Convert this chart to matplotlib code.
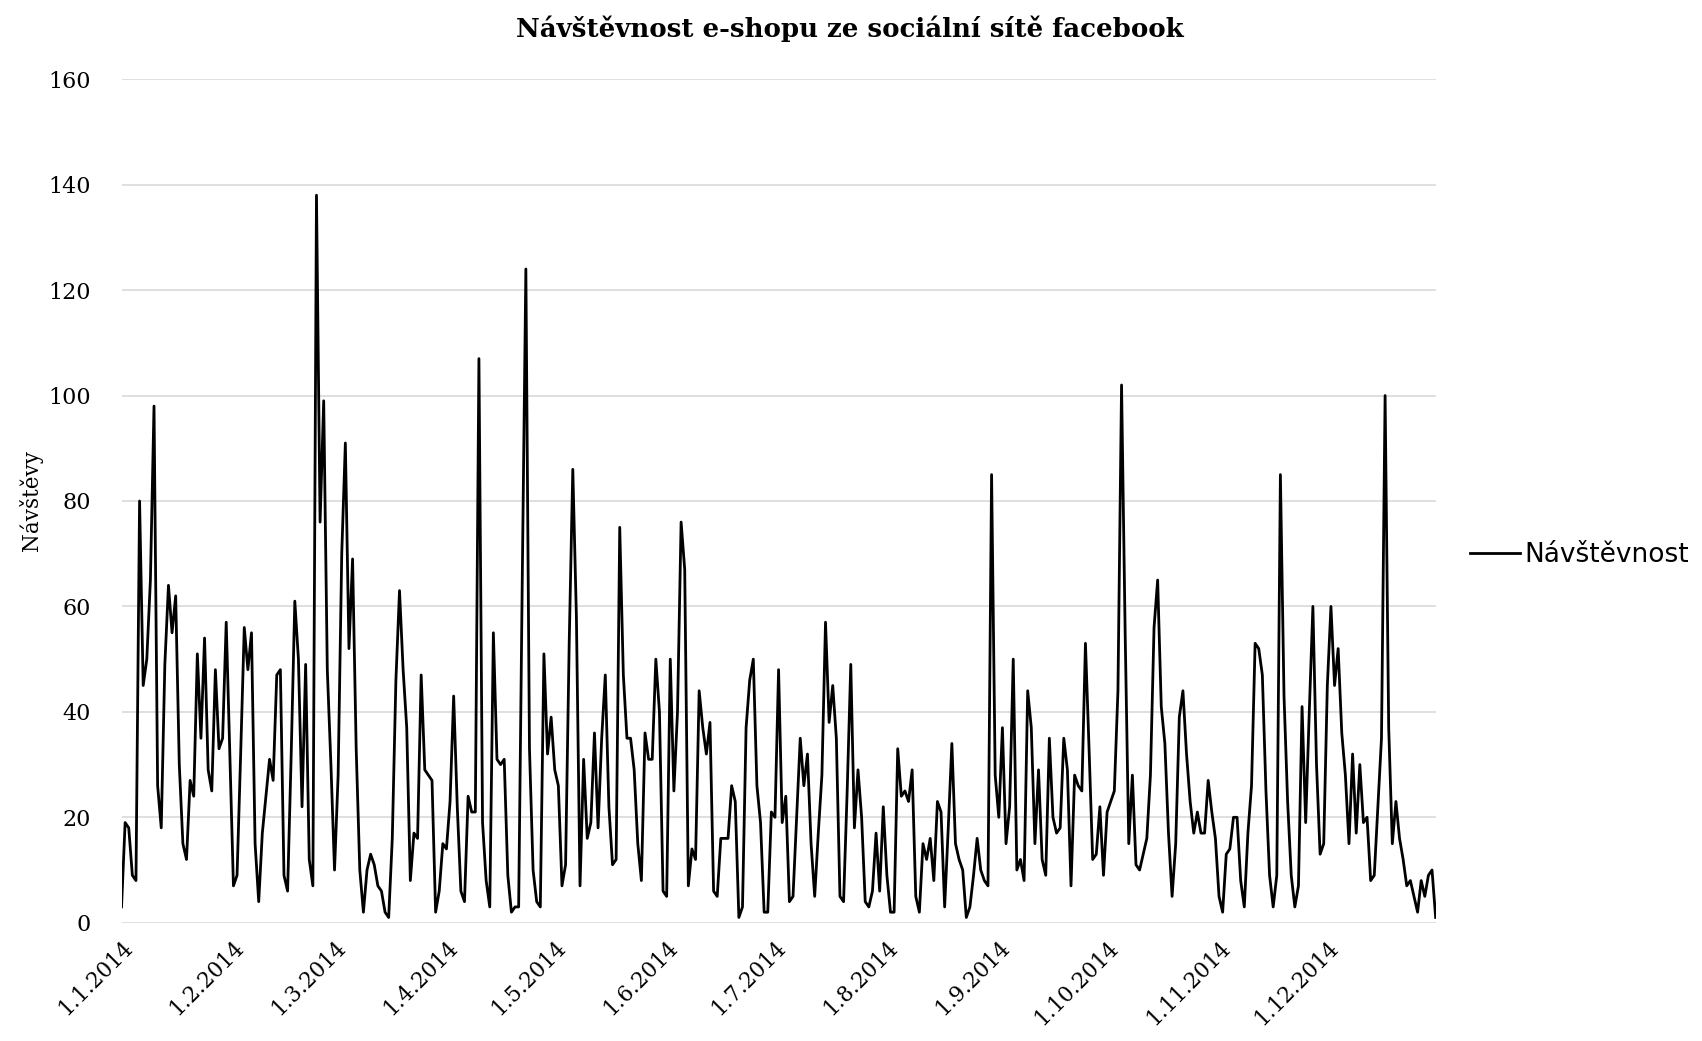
import matplotlib
matplotlib.use("Agg")
import matplotlib.pyplot as plt
import pandas as pd

# Denní návštěvy z facebooku, rok 2014 (po měsících)
leden = [3, 19, 18, 9, 8, 80, 45, 50, 65, 98, 26, 18, 49, 64, 55, 62, 30, 15, 12, 27,
         24, 51, 35, 54, 29, 25, 48, 33, 35, 57, 32]
unor = [7, 9, 32, 56, 48, 55, 15, 4, 17, 24, 31, 27, 47, 48, 9, 6, 32, 61, 50, 22,
        49, 12, 7, 138, 76, 99, 48, 30]
brezen = [10, 28, 70, 91, 52, 69, 33, 10, 2, 10, 13, 11, 7, 6, 2, 1, 16, 46, 63, 48,
          37, 8, 17, 16, 47, 29, 28, 27, 2, 6, 15]
duben = [14, 23, 43, 22, 6, 4, 24, 21, 21, 107, 19, 8, 3, 55, 31, 30, 31, 9, 2, 3,
         3, 65, 124, 33, 10, 4, 3, 51, 32, 39]
kveten = [29, 26, 7, 11, 53, 86, 58, 7, 31, 16, 19, 36, 18, 35, 47, 22, 11, 12, 75, 47,
          35, 35, 29, 15, 8, 36, 31, 31, 50, 40, 6]
cerven = [5, 50, 25, 40, 76, 67, 7, 14, 12, 44, 37, 32, 38, 6, 5, 16, 16, 16, 26, 23,
          1, 3, 37, 46, 50, 26, 19, 2, 2, 21]
cervenec = [20, 48, 19, 24, 4, 5, 20, 35, 26, 32, 15, 5, 17, 28, 57, 38, 45, 35, 5, 4,
            25, 49, 18, 29, 20, 4, 3, 6, 17, 6, 22]
srpen = [9, 2, 2, 33, 24, 25, 23, 29, 5, 2, 15, 12, 16, 8, 23, 21, 3, 18, 34, 15,
         12, 10, 1, 3, 9, 16, 10, 8, 7, 85, 28]
zari = [20, 37, 15, 22, 50, 10, 12, 8, 44, 37, 15, 29, 12, 9, 35, 20, 17, 18, 35, 29,
        7, 28, 26, 25, 53, 33, 12, 13, 22, 9]
rijen = [21, 23, 25, 44, 102, 55, 15, 28, 11, 10, 13, 16, 28, 56, 65, 41, 34, 17, 5, 15,
         39, 44, 32, 23, 17, 21, 17, 17, 27, 21, 16]
listopad = [5, 2, 13, 14, 20, 20, 8, 3, 17, 26, 53, 52, 47, 25, 9, 3, 9, 85, 43, 23,
            9, 3, 7, 41, 19, 40, 60, 30, 13, 15]
prosinec = [45, 60, 45, 52, 36, 28, 15, 32, 17, 30, 19, 20, 8, 9, 22, 35, 100, 37, 15, 23,
            16, 12, 7, 8, 5, 2, 8, 5, 9, 10, 1]

navstevy = (leden + unor + brezen + duben + kveten + cerven + cervenec + srpen
            + zari + rijen + listopad + prosinec)
dny = pd.date_range("2014-01-01", periods=len(navstevy), freq="D")
mesice = pd.date_range("2014-01-01", "2014-12-01", freq="MS")

SERIF = ["DejaVu Serif"]

fig = plt.figure(figsize=(17.02, 10.41), dpi=100)
ax = fig.add_axes([0.0714, 0.1136, 0.7721, 0.8103])

ax.plot(dny, navstevy, color="black", linewidth=2.0, label="Návštěvnost")

ax.set_xlim(dny[0], dny[-1])
ax.set_ylim(0, 160)
ax.set_yticks(range(0, 161, 20))
ax.set_xticks(mesice)
ax.set_xticklabels([f"{d.day}.{d.month}.{d.year}" for d in mesice],
                   rotation=45, ha="right", va="top", rotation_mode="anchor",
                   family=SERIF, fontsize=15.5)
for lbl in ax.get_yticklabels():
    lbl.set_family(SERIF)
    lbl.set_fontsize(16)

ax.grid(axis="y", color="#d9d9d9", linewidth=1.2)
ax.set_axisbelow(True)
for s in ax.spines.values():
    s.set_visible(False)
ax.tick_params(axis="both", length=0, pad=10)
ax.tick_params(axis="y", pad=22)

ax.set_ylabel("Návštěvy", family=SERIF, fontsize=15.5, labelpad=4)
fig.suptitle("Návštěvnost e-shopu ze sociální sítě facebook", x=0.4995, y=0.985,
             family=SERIF, fontsize=18.7, fontweight="bold")

fig.legend(loc="center left", bbox_to_anchor=(0.850, 0.467), frameon=False,
           prop={"family": ["DejaVu Sans"], "size": 19},
           handlelength=1.86, handletextpad=0.2)

plt.savefig("out.png", dpi=100)
plt.close()
